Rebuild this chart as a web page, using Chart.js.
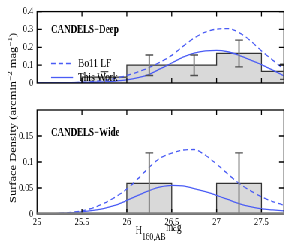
<!DOCTYPE html>
<html>
<head>
<meta charset="utf-8">
<script src="https://cdn.jsdelivr.net/npm/chart.js@4"></script>
<style>
  html, body { margin: 0; padding: 0; background: #fff; overflow: hidden; }
  /* the original figure is squeezed sideways, so draw wide and scale down */
  #wrap { position: relative; width: 385px; height: 241px; transform: scaleX(0.75065); transform-origin: 0 0; }
  #wrap canvas { position: absolute; left: 0; top: 0; }
</style>
</head>
<body>
<div id="wrap">
  <canvas id="deep" width="385" height="241"></canvas>
  <canvas id="wide" width="385" height="241"></canvas>
</div>
<script>
// H160 magnitude grid for the model curves
const magGrid = [25, 25.125, 25.25, 25.375, 25.5, 25.625, 25.75, 25.875, 26, 26.125, 26.25, 26.375,
  26.5, 26.625, 26.75, 26.875, 27, 27.125, 27.25, 27.375, 27.5, 27.625, 27.75];

const deepBo11 = [0, 0, 0.001, 0.002, 0.004, 0.008, 0.015, 0.026, 0.042, 0.062, 0.087, 0.118,
  0.155, 0.205, 0.252, 0.285, 0.302, 0.305, 0.283, 0.238, 0.180, 0.128, 0.078];
const deepThisWork = [0, 0, 0.001, 0.002, 0.003, 0.004, 0.006, 0.011, 0.018, 0.030, 0.048, 0.080,
  0.112, 0.145, 0.168, 0.180, 0.183, 0.175, 0.155, 0.130, 0.103, 0.072, 0.040];
const wideBo11 = [0, 0, 0.001, 0.003, 0.006, 0.012, 0.021, 0.033, 0.048, 0.068, 0.090, 0.108,
  0.117, 0.123, 0.124, 0.113, 0.096, 0.077, 0.059, 0.045, 0.033, 0.024, 0.017];
const wideThisWork = [0, 0, 0.001, 0.002, 0.004, 0.007, 0.011, 0.017, 0.026, 0.036, 0.045, 0.052,
  0.055, 0.054, 0.049, 0.043, 0.036, 0.028, 0.020, 0.014, 0.010, 0.008, 0.006];

// histogram bins (edges) and observed surface densities
const binEdges = [25, 25.5, 26, 26.5, 27, 27.5, 28];
const deepCounts = [0, 0.033, 0.1, 0.1, 0.166, 0.065];
const wideCounts = [0, 0, 0.059, 0, 0.059, 0];

// error bars
const deepErrX = [25.75, 26.25, 26.75, 27.25, 27.75];
const deepErrLo = [0, 0.042, 0.042, 0.09, 0.02];
const deepErrHi = [0.064, 0.157, 0.157, 0.24, 0.105];
const wideErrX = [26.25, 27.25];
const wideErrLo = [0, 0];
const wideErrHi = [0.1175, 0.1175];

// tick labels
const magTicks = [25, 25.5, 26, 26.5, 27, 27.5];
const deepYTicks = [0, 0.1, 0.2, 0.3, 0.4];
const wideYTicks = [0, 0.05, 0.1, 0.15];

const SX = 289 / 385;
const px = (x) => x / SX;   // picture x -> canvas x
const serif = "'Liberation Serif', 'Times New Roman', serif";
const blue = '#4a5cf5';

function stepPoints(counts) {
  return binEdges.map((e, i) => ({ x: e, y: i < counts.length ? counts[i] : counts[counts.length - 1] }));
}

const panelDecor = {
  id: 'panelDecor',
  afterDatasetsDraw(chart, args, opts) {
    const ctx = chart.ctx;
    const { left, right, top, bottom } = chart.chartArea;
    const xs = chart.scales.x, ys = chart.scales.y;

    // error bars
    ctx.save();
    ctx.beginPath();
    ctx.rect(left, top, right - left, bottom - top);
    ctx.clip();
    opts.errX.forEach((m, i) => {
      const x = xs.getPixelForValue(m);
      const y1 = ys.getPixelForValue(opts.errLo[i]);
      const y2 = ys.getPixelForValue(opts.errHi[i]);
      ctx.strokeStyle = '#808080';
      ctx.lineWidth = 2;
      ctx.beginPath();
      ctx.moveTo(x, y1);
      ctx.lineTo(x, y2);
      ctx.stroke();
      ctx.strokeStyle = '#505050';
      ctx.lineWidth = 1.3;
      ctx.beginPath();
      ctx.moveTo(x - 5.3, y2);
      ctx.lineTo(x + 5.3, y2);
      if (opts.errLo[i] > 0) {
        ctx.moveTo(x - 5.3, y1);
        ctx.lineTo(x + 5.3, y1);
      }
      ctx.stroke();
    });
    ctx.restore();

    ctx.save();
    // frame and inward ticks
    ctx.strokeStyle = '#000';
    ctx.lineWidth = 1.3;
    ctx.strokeRect(left, top, right - left, bottom - top);
    ctx.beginPath();
    magTicks.slice(1).forEach((m) => {
      const x = xs.getPixelForValue(m);
      ctx.moveTo(x, bottom); ctx.lineTo(x, bottom - 5);
      ctx.moveTo(x, top); ctx.lineTo(x, top + 5);
    });
    opts.yTicks.slice(1).forEach((v) => {
      const y = ys.getPixelForValue(v);
      ctx.moveTo(left, y); ctx.lineTo(left + 6.5, y);
      ctx.moveTo(right, y); ctx.lineTo(right - 6.5, y);
    });
    ctx.stroke();

    if (opts.grayBase) {
      ctx.strokeStyle = '#7f7f7f';
      ctx.lineWidth = 2.4;
      ctx.beginPath();
      ctx.moveTo(left, bottom - 0.5);
      ctx.lineTo(right, bottom - 0.5);
      ctx.stroke();
    }

    // panel name
    ctx.fillStyle = '#000';
    ctx.font = `bold 12px ${serif}`;
    ctx.textBaseline = 'alphabetic';
    ctx.fillText(opts.name, px(51), opts.nameY);

    if (opts.legend) {
      ctx.strokeStyle = blue;
      ctx.lineWidth = 1.3;
      ctx.setLineDash([6, 4]);
      ctx.beginPath();
      ctx.moveTo(px(51), 63.5); ctx.lineTo(px(73), 63.5);
      ctx.stroke();
      ctx.setLineDash([]);
      ctx.beginPath();
      ctx.moveTo(px(51), 77.5); ctx.lineTo(px(73), 77.5);
      ctx.stroke();
      ctx.font = `12.5px ${serif}`;
      ctx.textBaseline = 'middle';
      ctx.fillText('Bo11 LF', px(78), 64);
      ctx.fillText('This Work', px(78), 78);
    }

    if (opts.axisTitles) {
      // x title: H_160,AB mag
      ctx.textBaseline = 'alphabetic';
      ctx.font = `12px ${serif}`;
      ctx.fillText('H', px(135.5), 234);
      const hw = ctx.measureText('H').width;
      ctx.font = `10px ${serif}`;
      ctx.fillText('160,AB', px(135.5) + hw, 240);
      ctx.font = `12px ${serif}`;
      ctx.fillText('mag', px(166), 231);

      // y title, rotated
      const parts = [
        ['Surface Density (arcmin', 12.5, 0],
        ['\u22122', 9, -5],
        [' mag', 12.5, 0],
        ['\u22121', 9, -5],
        [')', 12.5, 0],
      ];
      let total = 0;
      parts.forEach((p) => { ctx.font = `${p[1]}px ${serif}`; total += ctx.measureText(p[0]).width; });
      ctx.translate(px(16), 118);
      ctx.rotate(-Math.PI / 2);
      let pos = -total / 2;
      parts.forEach((p) => {
        ctx.font = `${p[1]}px ${serif}`;
        ctx.fillText(p[0], pos, p[2]);
        pos += ctx.measureText(p[0]).width;
      });
    }
    ctx.restore();
  }
};

function buildPanel(id, cfg) {
  return new Chart(document.getElementById(id), {
    type: 'line',
    data: {
      datasets: [
        {
          label: 'This Work',
          data: magGrid.map((m, i) => ({ x: m, y: cfg.thisWork[i] })),
          borderColor: blue,
          borderWidth: 1.3,
          pointRadius: 0,
          cubicInterpolationMode: 'monotone',
          fill: false,
          order: 0,
        },
        {
          label: 'Bo11 LF',
          data: magGrid.map((m, i) => ({ x: m, y: cfg.bo11[i] })),
          borderColor: blue,
          borderWidth: 1.3,
          borderDash: [6, 4],
          pointRadius: 0,
          cubicInterpolationMode: 'monotone',
          fill: false,
          order: 1,
        },
        {
          label: 'data',
          data: stepPoints(cfg.counts),
          stepped: 'before',
          borderColor: '#333',
          borderWidth: 1.3,
          backgroundColor: '#d9d9d9',
          pointRadius: 0,
          fill: 'origin',
          order: 2,
        },
      ],
    },
    options: {
      responsive: false,
      animation: false,
      events: [],
      layout: { padding: { left: 0, right: 385 - px(284), top: cfg.padTop, bottom: cfg.padBottom } },
      plugins: {
        legend: { display: false },
        tooltip: { enabled: false },
        panelDecor: cfg.decor,
      },
      scales: {
        x: {
          type: 'linear',
          min: 25,
          max: 27.75,
          display: cfg.showX,
          afterBuildTicks: (s) => { s.ticks = magTicks.map((v) => ({ value: v })); },
          afterFit: (s) => { s.height = 27; },
          grid: { display: false, drawTicks: false },
          border: { display: false },
          ticks: {
            padding: 2,
            color: '#000',
            maxRotation: 0,
            autoSkip: false,
            font: { family: serif, size: 11 },
            callback: (v) => String(v),
          },
        },
        y: {
          type: 'linear',
          min: 0,
          max: cfg.yMax,
          afterBuildTicks: (s) => { s.ticks = cfg.yTicks.map((v) => ({ value: v })); },
          afterFit: (s) => { s.width = px(37); },
          grid: { display: false, drawTicks: false },
          border: { display: false },
          ticks: {
            padding: 5,
            color: '#000',
            font: { family: serif, size: 11 },
            callback: (v) => String(v),
          },
        },
      },
    },
    plugins: [panelDecor],
  });
}

buildPanel('deep', {
  bo11: deepBo11,
  thisWork: deepThisWork,
  counts: deepCounts,
  yMax: 0.4,
  yTicks: deepYTicks,
  showX: false,
  padTop: 8,
  padBottom: 131,
  decor: {
    errX: deepErrX, errLo: deepErrLo, errHi: deepErrHi, yTicks: deepYTicks,
    name: 'CANDELS\u2212Deep', nameY: 33, legend: true, axisTitles: false, grayBase: false,
  },
});

buildPanel('wide', {
  bo11: wideBo11,
  thisWork: wideThisWork,
  counts: wideCounts,
  yMax: 0.2,
  yTicks: wideYTicks,
  showX: true,
  padTop: 110,
  padBottom: 0,
  decor: {
    errX: wideErrX, errLo: wideErrLo, errHi: wideErrHi, yTicks: wideYTicks,
    name: 'CANDELS\u2212Wide', nameY: 135.5, legend: false, axisTitles: true, grayBase: true,
  },
});
</script>
</body>
</html>
